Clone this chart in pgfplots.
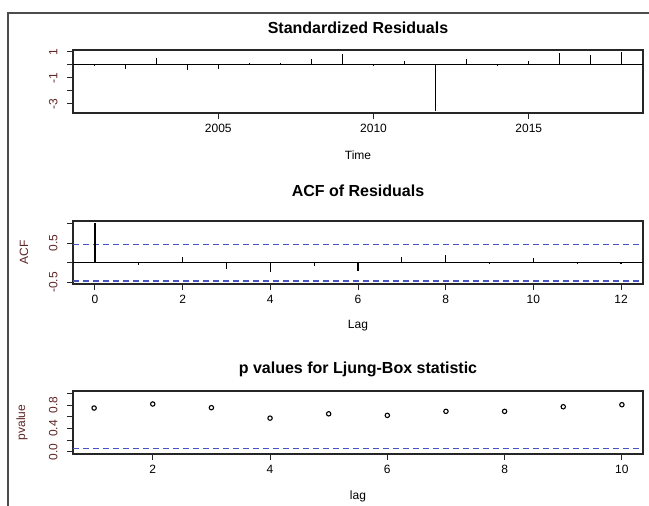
\documentclass[border=0pt]{standalone}
\usepackage{fontspec}
\setmainfont{Liberation Sans}
\usepackage{pgfplots}
\pgfplotsset{compat=1.18}
\definecolor{ylab}{RGB}{95,35,35}
\definecolor{rblue}{RGB}{70,85,195}
\newcommand{\lblfont}{\fontsize{12}{14}\selectfont}
\newcommand{\ttlfont}{\bfseries\fontsize{16}{18}\selectfont}
\pgfplotsset{
 rpanel/.style={
  scale only axis, width=570pt, height=63pt,
  anchor=north west,
  axis line style={line width=1.1pt, black!85},
  tick style={line width=1pt, black!85},
  tick align=outside, major tick length=6pt,
  xtick pos=bottom, ytick pos=left,
  minor tick num=0,
  ticklabel style={font=\lblfont},
  xticklabel style={text=black},
  yticklabel style={rotate=90, anchor=south, text=ylab},
  yticklabel shift=6pt,
  xticklabel shift=2pt,
 }
}
\begin{document}
\begin{tikzpicture}[x=1pt,y=1pt]
\path[use as bounding box] (0,0) rectangle (649,-506);
\draw[line width=1.3pt, black!70] (8,-506) -- (8,-13) -- (649,-13);

% Panel 1
\begin{axis}[rpanel, name=ax1, at={(73pt,-50pt)},
 xmin=2000.32, xmax=2018.68, ymin=-3.70, ymax=1.15,
 xtick={2005,2010,2015}, xticklabels={2005,2010,2015},
 ytick={-3,-2,-1,0,1}, yticklabels={-3,,-1,,1}]
\addplot[black, line width=1.1pt] coordinates {(2000.32,0) (2018.68,0)};
\addplot[ycomb, black, line width=1.2pt] coordinates {
(2001,0.02) (2002,-0.28) (2003,0.54) (2004,-0.41) (2005,-0.30) (2006,0.13)
(2007,0.12) (2008,0.43) (2009,0.87) (2010,-0.02) (2011,0.33) (2012,-3.52)
(2013,0.43) (2014,0.01) (2015,0.28) (2016,0.89) (2017,0.74) (2018,0.99)};
\end{axis}
\node[font=\ttlfont] at ([yshift=22pt]ax1.north) {Standardized Residuals};
\node[font=\lblfont] at ([yshift=-42pt]ax1.south) {Time};

% Panel 2
\begin{axis}[rpanel, name=ax2, at={(73pt,-221pt)},
 xmin=-0.5, xmax=12.5, ymin=-0.54, ymax=1.058,
 xtick={0,2,4,6,8,10,12}, xticklabels={0,2,4,6,8,10,12},
 ytick={-0.5,0,0.5,1}, yticklabels={-0.5,,0.5,}]
\addplot[black, line width=1.1pt] coordinates {(-0.5,0) (12.5,0)};
\addplot[rblue, dash pattern=on 6pt off 4pt, line width=1.3pt] coordinates {(-0.5,0.462) (12.5,0.462)};
\addplot[rblue, dash pattern=on 6pt off 4pt, line width=1.3pt] coordinates {(-0.5,-0.462) (12.5,-0.462)};
\addplot[ycomb, black, line width=1.2pt] coordinates {
(0,1) (1,-0.05) (2,0.14) (3,-0.16) (4,-0.23) (5,-0.09) (6,-0.20)
(7,0.14) (8,0.20) (9,-0.02) (10,0.12) (11,0.005) (12,-0.04)};
\end{axis}
\node[font=\ttlfont] at ([yshift=30pt]ax2.north) {ACF of Residuals};
\node[font=\lblfont] at ([yshift=-42pt]ax2.south) {Lag};
\node[font=\lblfont, rotate=90, text=ylab] at ([xshift=-49pt]ax2.west) {ACF};

% Panel 3
\begin{axis}[rpanel, name=ax3, at={(73pt,-391pt)},
 xmin=0.64, xmax=10.36, ymin=-0.04, ymax=1.04,
 xtick={2,4,6,8,10}, xticklabels={2,4,6,8,10},
 ytick={0,0.2,0.4,0.6,0.8,1}, yticklabels={0.0,,0.4,,0.8,}]
\addplot[rblue, dash pattern=on 6pt off 4pt, line width=1.3pt] coordinates {(0.64,0.05) (10.36,0.05)};
\addplot[only marks, mark=o, mark size=2.2pt, black, mark options={line width=1.1pt}] coordinates {
(1,0.748) (2,0.817) (3,0.754) (4,0.575) (5,0.649) (6,0.622) (7,0.691) (8,0.691) (9,0.770) (10,0.805)};
\end{axis}
\node[font=\ttlfont] at ([yshift=22pt]ax3.north) {p values for Ljung-Box statistic};
\node[font=\lblfont] at ([yshift=-42pt]ax3.south) {lag};
\node[font=\lblfont, rotate=90, text=ylab] at ([xshift=-51pt]ax3.west) {pvalue};
\end{tikzpicture}
\end{document}
